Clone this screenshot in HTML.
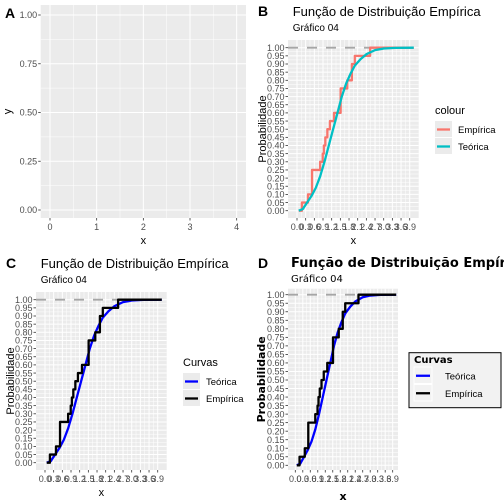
<!DOCTYPE html>
<html><head><meta charset="utf-8"><style>
body{margin:0;background:#fff}
svg{display:block;font-family:"Liberation Sans",sans-serif}
</style></head><body>
<svg id="c" width="504" height="504" viewBox="0 0 504 504" xmlns="http://www.w3.org/2000/svg"></svg>
<script>
const empX=[0.06,0.17,0.38,0.52,0.80,0.89,0.93,0.98,1.05,1.14,1.28,1.51,1.74,1.90,2.00,2.53];
const empY=[0,0.05,0.10,0.25,0.30,0.35,0.40,0.45,0.50,0.55,0.60,0.75,0.80,0.90,0.95,1.00];
const empEnd=4.04;
const theoX=[0.06,0.2,0.35,0.5,0.65,0.8,0.95,1.1,1.25,1.4,1.55,1.7,1.85,2.0,2.2,2.4,2.7,3.0,3.4,4.04];
const theoY=[0,0.01,0.05,0.09,0.14,0.21,0.30,0.40,0.50,0.60,0.70,0.78,0.84,0.89,0.93,0.96,0.985,0.995,0.999,1];
const xTicks=[0,0.3,0.6,0.9,1.2,1.5,1.8,2.1,2.4,2.7,3.0,3.3,3.6,3.9];
const yTicks=[0,0.05,0.1,0.15,0.2,0.25,0.3,0.35,0.4,0.45,0.5,0.55,0.6,0.65,0.7,0.75,0.8,0.85,0.9,0.95,1];
const aXTicks=[0,1,2,3,4];
const aYTicks=[0,0.25,0.5,0.75,1];

const NS='http://www.w3.org/2000/svg';
const svg=document.getElementById('c');
function el(tag,attrs,parent,text){const e=document.createElementNS(NS,tag);for(const k in attrs)e.setAttribute(k,attrs[k]);if(text!==undefined)e.textContent=text;(parent||svg).appendChild(e);return e;}

function panel(o){
  const g=el('g',{transform:`translate(${o.ox},${o.oy})`});
  
  
  const sx=v=>o.x0+v*o.kx, sy=v=>o.y0-v*(o.y0-o.y1);
  const bg=el('rect',{x:o.L,y:o.T,width:o.R-o.L,height:o.B-o.T,fill:'#ebebeb'},g);
  
  const grid=el('g',{},g);
  
  const xt=o.xt, yt=o.yt;
  for(let i=0;i<xt.length;i++){
    if(i<xt.length-1){const m=(xt[i]+xt[i+1])/2;el('line',{x1:sx(m),x2:sx(m),y1:o.T,y2:o.B,stroke:'#fff','stroke-width':0.5},grid);}
    el('line',{x1:sx(xt[i]),x2:sx(xt[i]),y1:o.T,y2:o.B,stroke:'#fff','stroke-width':1},grid);
  }
  for(let i=0;i<yt.length;i++){
    if(i<yt.length-1){const m=(yt[i]+yt[i+1])/2;el('line',{y1:sy(m),y2:sy(m),x1:o.L,x2:o.R,stroke:'#fff','stroke-width':0.5},grid);}
    el('line',{y1:sy(yt[i]),y2:sy(yt[i]),x1:o.L,x2:o.R,stroke:'#fff','stroke-width':1},grid);
  }
  const fs=o.tickFs;
  xt.forEach(v=>{
    el('line',{x1:sx(v),x2:sx(v),y1:o.B,y2:o.B+2.5,stroke:'#333','stroke-width':0.8},g);
    const t=el('text',{x:sx(v),y:o.B+fs+3,'font-size':fs,fill:'#4d4d4d','text-anchor':'middle'},g,o.xfmt(v));
    
  });
  yt.forEach(v=>{
    el('line',{x1:o.L-2.5,x2:o.L,y1:sy(v),y2:sy(v),stroke:'#333','stroke-width':0.8},g);
    const t=el('text',{x:o.L-3.5,y:sy(v)+fs*0.36,'font-size':fs,fill:'#4d4d4d','text-anchor':'end'},g,v.toFixed(2));
    
  });
  const bold=o.boldAxis?'bold':'normal', aff=o.boldAxis?'"DejaVu Sans",sans-serif':'"Liberation Sans",sans-serif';
  const xl=el('text',{x:(o.L+o.R)/2,y:o.xlY,'font-size':11,'font-weight':bold,'font-family':aff,'text-anchor':'middle',fill:'#000'},g,'x');
  
  const yl=el('text',{x:0,y:0,transform:`translate(${o.ylX},${(o.T+o.B)/2}) rotate(-90)`,'font-size':11,'font-weight':bold,'font-family':aff,'text-anchor':'middle',fill:'#000'},g,o.ylab);
  
  const tag=el('text',{x:o.tagX,y:o.tagY,'font-size':14,'font-weight':'bold',fill:'#000'},g,o.tag);
  
  if(o.series){
    const hl=el('line',{x1:o.L,x2:o.R,y1:sy(1),y2:sy(1),stroke:'#a6a6a6','stroke-width':1.8,'stroke-dasharray':'10 9'},g);
    
    let d=`M${sx(empX[0])},${sy(empY[0])}`;
    for(let i=1;i<empX.length;i++){d+=`H${sx(empX[i])}V${sy(empY[i])}`;}
    d+=`H${sx(empEnd)}`;
    let dt='';
    theoX.forEach((v,i)=>{dt+=(i?'L':'M')+sx(v)+','+sy(theoY[i]);});
    const draw=[['theoretical-cdf',dt,o.cTheo],['empirical-ecdf',d,o.cEmp]];
    if(o.empFirst)draw.reverse();
    draw.forEach(s=>{const p=el('path',{d:s[1],fill:'none',stroke:s[2],'stroke-width':2.3,'stroke-linejoin':'round'},g);
      });
    const tt=el('text',{x:o.titleX,y:o.titleY,'font-size':13,'font-weight':o.boldTitle?'bold':'normal','font-family':o.boldTitle?'"DejaVu Sans",sans-serif':'"Liberation Sans",sans-serif',fill:'#000'},g,'Função de Distribuição Empírica');
    
    const st=el('text',{x:o.titleX,y:o.titleY+15,'font-size':10,fill:'#000','font-family':o.boldTitle?'"DejaVu Sans",sans-serif':'"Liberation Sans",sans-serif'},g,'Gráfico 04');
    
    const lg=el('g',{},g);
    
    const L=o.leg;
    if(L.box)el('rect',{x:L.bx,y:L.by,width:L.bw,height:L.bh,fill:'#f2f2f2',stroke:'#000','stroke-width':1},lg);
    el('text',{x:L.x,y:L.ty,'font-size':L.tfs,'font-weight':L.box?'bold':'normal','font-family':L.box?'"DejaVu Sans",sans-serif':'"Liberation Sans",sans-serif',fill:'#000'},lg,L.title);
    L.items.forEach((it,i)=>{
      const y=L.ky+i*L.kh;
      const e=el('g',{},lg);
      
      el('rect',{x:L.x,y:y,width:L.kw,height:L.kh-1,fill:L.box?'#f2f2f2':'#ebebeb',stroke:L.box?'#fff':'none'},e);
      el('line',{x1:L.x+2,x2:L.x+L.kw-2,y1:y+L.kh/2,y2:y+L.kh/2,stroke:it[1],'stroke-width':2.3},e);
      el('text',{x:L.lx,y:y+L.kh/2+3.5,'font-size':9.5,fill:'#000'},e,it[0]);
    });
  }
}
panel({name:'panel-a',ox:0,oy:0,L:40.7,R:246,T:5,B:218,x0:50,kx:46.67,y0:210,y1:15,xt:aXTicks,yt:aYTicks,tickFs:9,
  xfmt:v=>String(v),ylab:'y',xlY:244,ylX:11,tag:'A',tagX:5,tagY:18});
const base={L:36,R:166.7,T:40,B:218,x0:45,kx:28.9,y0:210.7,y1:47.7,xt:xTicks,yt:yTicks,tickFs:9,xfmt:v=>v.toFixed(1),
  ylab:'Probabilidade',xlY:244,ylX:14,tagX:6,tagY:16,series:true,titleX:40.7,titleY:16};
panel(Object.assign({},base,{name:'panel-b',ox:252,oy:0,tag:'B',cEmp:'#F8766D',cTheo:'#00BFC4',empFirst:true,
  leg:{x:183,ty:114,tfs:11,title:'colour',ky:121,kh:17,kw:17,lx:206,items:[['Empírica','#F8766D'],['Teórica','#00BFC4']]}}));
panel(Object.assign({},base,{name:'panel-c',ox:0,oy:252,tag:'C',cEmp:'#000',cTheo:'#0000FF',
  leg:{x:183,ty:114,tfs:11,title:'Curvas',ky:121,kh:17,kw:17,lx:206,items:[['Teórica','#0000FF'],['Empírica','#000']]}}));
panel({name:'panel-d',ox:252,oy:252,L:36,R:146,T:36.7,B:218,x0:43.3,kx:24.97,y0:213.3,y1:42.7,xt:xTicks,yt:yTicks,tickFs:9,
  xfmt:v=>v.toFixed(1),ylab:'Probabilidade',xlY:248,ylX:13,tag:'D',tagX:6,tagY:16,series:true,titleX:39,titleY:15,boldTitle:true,boldAxis:true,
  cEmp:'#000',cTheo:'#0000FF',
  leg:{box:true,bx:157,by:100.7,bw:92,bh:55,x:162,ty:111,tfs:10,title:'Curvas',ky:115,kh:17.5,kw:18,lx:193,items:[['Teórica','#0000FF'],['Empírica','#000']]}});
</script>
</body></html>
